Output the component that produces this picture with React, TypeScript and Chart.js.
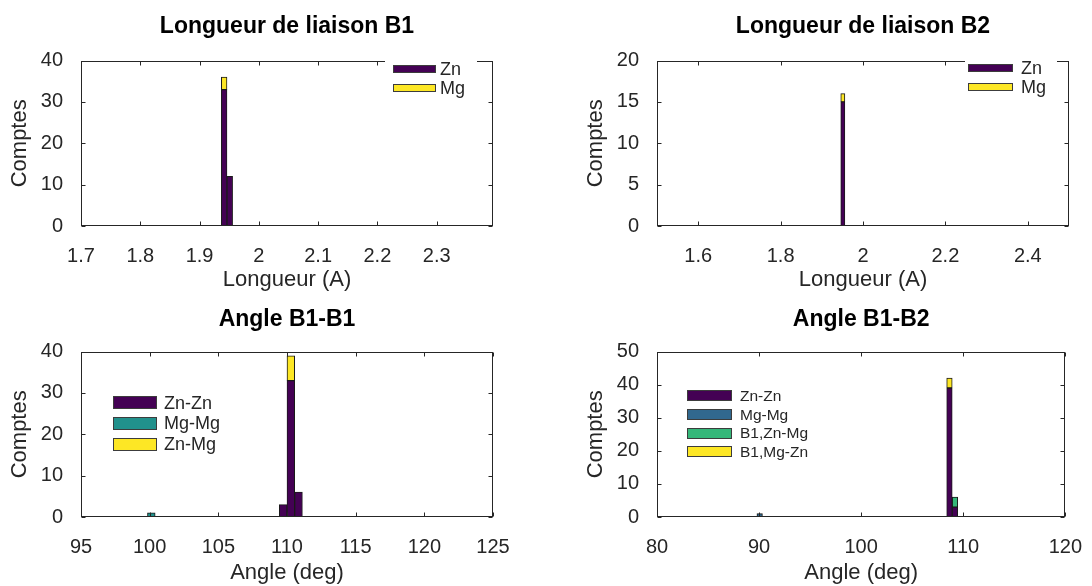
import React, { useEffect, useRef } from "react";
import { Chart, registerables } from "chart.js";

Chart.register(...registerables);

// ---------- data ----------
// Panel 1 : Longueur de liaison B1
const B1_BINS = [1.9415, 1.951];
const B1_ZN = [33, 12];
const B1_MG = [3, 0];
const B1_XTICKS = [1.7, 1.8, 1.9, 2, 2.1, 2.2, 2.3];
const B1_YTICKS = [0, 10, 20, 30, 40];

// Panel 2 : Longueur de liaison B2
const B2_BINS = [1.941, 1.951];
const B2_ZN = [0, 15];
const B2_MG = [0, 1];
const B2_XTICKS = [1.6, 1.8, 2, 2.2, 2.4];
const B2_YTICKS = [0, 5, 10, 15, 20];

// Panel 3 : Angle B1-B1
const A11_BINS = [100.12, 109.72, 110.28, 110.84];
const A11_ZNZN = [0, 3, 33, 6];
const A11_MGMG = [1, 0, 0, 0];
const A11_ZNMG = [0, 0, 6, 0];
const A11_XTICKS = [95, 100, 105, 110, 115, 120, 125];
const A11_YTICKS = [0, 10, 20, 30, 40];

// Panel 4 : Angle B1-B2
const A12_BINS = [90.06, 108.65, 109.19];
const A12_ZNZN = [0, 39, 3];
const A12_MGMG = [1, 0, 0];
const A12_ZNMG = [0, 0, 3];
const A12_MGZN = [0, 3, 0];
const A12_XTICKS = [80, 90, 100, 110, 120];
const A12_YTICKS = [0, 10, 20, 30, 40, 50];

// ---------- styles ----------
const FONT = "'Liberation Sans', Arial, Helvetica, sans-serif";
const INK = "#262626";
const EDGE = "#1a1a1a";
const V_PURPLE = "#440154";
const V_BLUE = "#31688e";
const V_TEAL = "#21918c";
const V_GREEN = "#35b779";
const V_YELLOW = "#fde725";

const matlabAxes = {
  id: "matlabAxes",
  afterDatasetsDraw(chart: any) {
    const { ctx, chartArea: a, scales } = chart;
    const x = scales.x;
    const y = scales.y;
    ctx.save();
    ctx.strokeStyle = INK;
    ctx.lineWidth = 1;
    const L = Math.round(a.left) + 0.5;
    const R = Math.round(a.right) - 0.5;
    const T = Math.round(a.top) + 0.5;
    const B = Math.round(a.bottom) - 0.5;
    ctx.strokeRect(L, T, R - L, B - T);
    const len = 4;
    ctx.beginPath();
    x.ticks.forEach((t: any) => {
      const px = Math.round(x.getPixelForValue(t.value)) + 0.5;
      ctx.moveTo(px, B);
      ctx.lineTo(px, B - len);
      ctx.moveTo(px, T);
      ctx.lineTo(px, T + len);
    });
    y.ticks.forEach((t: any) => {
      const py = Math.round(y.getPixelForValue(t.value)) + 0.5;
      ctx.moveTo(L, py);
      ctx.lineTo(L + len, py);
      ctx.moveTo(R, py);
      ctx.lineTo(R - len, py);
    });
    ctx.stroke();
    ctx.restore();
  },
};

const insideLegend = {
  id: "insideLegend",
  afterDraw(chart: any, _args: any, opts: any) {
    if (!opts || opts.firstRow == null) return;
    const { ctx, chartArea: a } = chart;
    ctx.save();
    if (opts.bg) {
      ctx.fillStyle = "#ffffff";
      ctx.fillRect(a.left + opts.bg[0], a.top + opts.bg[1], opts.bg[2], opts.bg[3]);
    }
    ctx.font = `${opts.fontSize}px ${FONT}`;
    ctx.textBaseline = "middle";
    ctx.textAlign = "left";
    chart.data.datasets.forEach((ds: any, i: number) => {
      const cy = a.top + opts.firstRow + i * opts.rowGap;
      const bx = Math.round(a.left + opts.boxX);
      const by = Math.round(cy - opts.boxH / 2);
      ctx.fillStyle = ds.backgroundColor;
      ctx.fillRect(bx, by, opts.boxW, opts.boxH);
      ctx.strokeStyle = "#3c3c3c";
      ctx.lineWidth = 1;
      ctx.strokeRect(bx + 0.5, by + 0.5, opts.boxW - 1, opts.boxH - 1);
      ctx.fillStyle = INK;
      ctx.fillText(ds.label, a.left + opts.textX, cy + 1);
    });
    ctx.restore();
  },
};

type Series = { label: string; values: number[]; color: string };
type Panel = {
  left: number;
  top: number;
  padLeft: number;
  padRight: number;
  title: string;
  titleGap: number;
  xTitle: string;
  xAxisH: number;
  xTitlePad: number;
  xMin: number;
  xMax: number;
  xTicks: number[];
  yMax: number;
  yTicks: number[];
  bins: number[];
  series: Series[];
  legend: any;
};

const W = 546;
const H = 293;

const PANELS: Panel[] = [
  {
    left: 0, top: 0, padLeft: 0, padRight: 53,
    title: "Longueur de liaison B1", titleGap: 20,
    xTitle: "Longueur (A)", xAxisH: 67, xTitlePad: 0,
    xMin: 1.7, xMax: 2.395, xTicks: B1_XTICKS, yMax: 40, yTicks: B1_YTICKS,
    bins: B1_BINS,
    series: [
      { label: "Zn", values: B1_ZN, color: V_PURPLE },
      { label: "Mg", values: B1_MG, color: V_YELLOW },
    ],
    legend: { bg: [304, -5, 92, 44], boxX: 312, boxW: 43, boxH: 8, firstRow: 8.5, rowGap: 18.5, textX: 359, fontSize: 18 },
  },
  {
    left: 546, top: 0, padLeft: 30, padRight: 23,
    title: "Longueur de liaison B2", titleGap: 20,
    xTitle: "Longueur (A)", xAxisH: 67, xTitlePad: 0,
    xMin: 1.5, xMax: 2.5, xTicks: B2_XTICKS, yMax: 20, yTicks: B2_YTICKS,
    bins: B2_BINS,
    series: [
      { label: "Zn", values: B2_ZN, color: V_PURPLE },
      { label: "Mg", values: B2_MG, color: V_YELLOW },
    ],
    legend: { bg: [308, -5, 92, 44], boxX: 311, boxW: 45, boxH: 8, firstRow: 7.5, rowGap: 19, textX: 364, fontSize: 18 },
  },
  {
    left: 0, top: 293, padLeft: 0, padRight: 53,
    title: "Angle B1-B1", titleGap: 18,
    xTitle: "Angle (deg)", xAxisH: 69, xTitlePad: 0,
    xMin: 95, xMax: 125, xTicks: A11_XTICKS, yMax: 40, yTicks: A11_YTICKS,
    bins: A11_BINS,
    series: [
      { label: "Zn-Zn", values: A11_ZNZN, color: V_PURPLE },
      { label: "Mg-Mg", values: A11_MGMG, color: V_TEAL },
      { label: "Zn-Mg", values: A11_ZNMG, color: V_YELLOW },
    ],
    legend: { bg: null, boxX: 32, boxW: 44, boxH: 13, firstRow: 51, rowGap: 20.7, textX: 83, fontSize: 18 },
  },
  {
    left: 546, top: 293, padLeft: 30, padRight: 23,
    title: "Angle B1-B2", titleGap: 18,
    xTitle: "Angle (deg)", xAxisH: 69, xTitlePad: 0,
    xMin: 80, xMax: 120, xTicks: A12_XTICKS, yMax: 50, yTicks: A12_YTICKS,
    bins: A12_BINS,
    series: [
      { label: "Zn-Zn", values: A12_ZNZN, color: V_PURPLE },
      { label: "Mg-Mg", values: A12_MGMG, color: V_BLUE },
      { label: "B1,Zn-Mg", values: A12_ZNMG, color: V_GREEN },
      { label: "B1,Mg-Zn", values: A12_MGZN, color: V_YELLOW },
    ],
    legend: { bg: null, boxX: 30, boxW: 45, boxH: 11, firstRow: 44.3, rowGap: 18.6, textX: 83, fontSize: 15.5 },
  },
];

function makeConfig(p: Panel): any {
  const datasets = p.series.map((s) => ({
    label: s.label,
    data: p.bins.map((b, i) => ({ x: b, y: s.values[i] > 0 ? s.values[i] : null })),
    backgroundColor: s.color,
    borderColor: EDGE,
    borderWidth: 1,
    borderSkipped: false,
    barPercentage: 1,
    categoryPercentage: 1,
  }));
  const tickFont = { family: FONT, size: 20 };
  const labelFont = { family: FONT, size: 22 };
  return {
    type: "bar",
    data: { datasets },
    options: {
      animation: false,
      responsive: false,
      events: [],
      layout: { padding: { left: p.padLeft, right: p.padRight, top: 0, bottom: 0 } },
      plugins: {
        legend: { display: false },
        tooltip: { enabled: false },
        title: {
          display: true,
          fullSize: false,
          text: p.title,
          color: "#000",
          font: { family: FONT, size: 23, weight: "bold" },
          padding: { top: 13, bottom: p.titleGap },
        },
        insideLegend: p.legend,
      },
      scales: {
        x: {
          type: "linear",
          min: p.xMin,
          max: p.xMax,
          offset: false,
          stacked: true,
          grid: { display: false },
          border: { display: false },
          ticks: {
            color: INK,
            font: tickFont,
            padding: 10,
            maxRotation: 0,
            autoSkip: false,
            includeBounds: false,
            callback: (v: any) => String(v),
          },
          afterBuildTicks: (s: any) => {
            s.ticks = p.xTicks.map((v) => ({ value: v }));
          },
          afterFit: (s: any) => {
            s.height = p.xAxisH;
          },
          title: {
            display: true,
            text: p.xTitle,
            color: INK,
            font: labelFont,
            padding: { top: 0, bottom: p.xTitlePad },
          },
        },
        y: {
          type: "linear",
          min: 0,
          max: p.yMax,
          stacked: true,
          grid: { display: false },
          border: { display: false },
          ticks: {
            color: INK,
            font: tickFont,
            padding: 10,
            autoSkip: false,
            callback: (v: any) => String(v),
          },
          afterBuildTicks: (s: any) => {
            s.ticks = p.yTicks.map((v) => ({ value: v }));
          },
          afterFit: (s: any) => {
            s.width = 81;
          },
          title: {
            display: true,
            text: "Comptes",
            color: INK,
            font: labelFont,
            padding: { top: 7, bottom: 0 },
          },
        },
      },
    },
    plugins: [matlabAxes, insideLegend],
  };
}

function PanelChart({ p }: { p: Panel }) {
  const ref = useRef<HTMLCanvasElement | null>(null);
  useEffect(() => {
    if (!ref.current) return;
    const chart = new Chart(ref.current, makeConfig(p));
    return () => chart.destroy();
  }, [p]);
  return (
    <canvas
      ref={ref}
      width={W}
      height={H}
      style={{ position: "absolute", left: p.left, top: p.top, width: W, height: H }}
    />
  );
}

export default function App() {
  return (
    <div
      style={{
        position: "absolute",
        left: 0,
        top: 0,
        width: 1092,
        height: 586,
        background: "#ffffff",
        overflow: "hidden",
      }}
    >
      {PANELS.map((p, i) => (
        <PanelChart key={i} p={p} />
      ))}
    </div>
  );
}
